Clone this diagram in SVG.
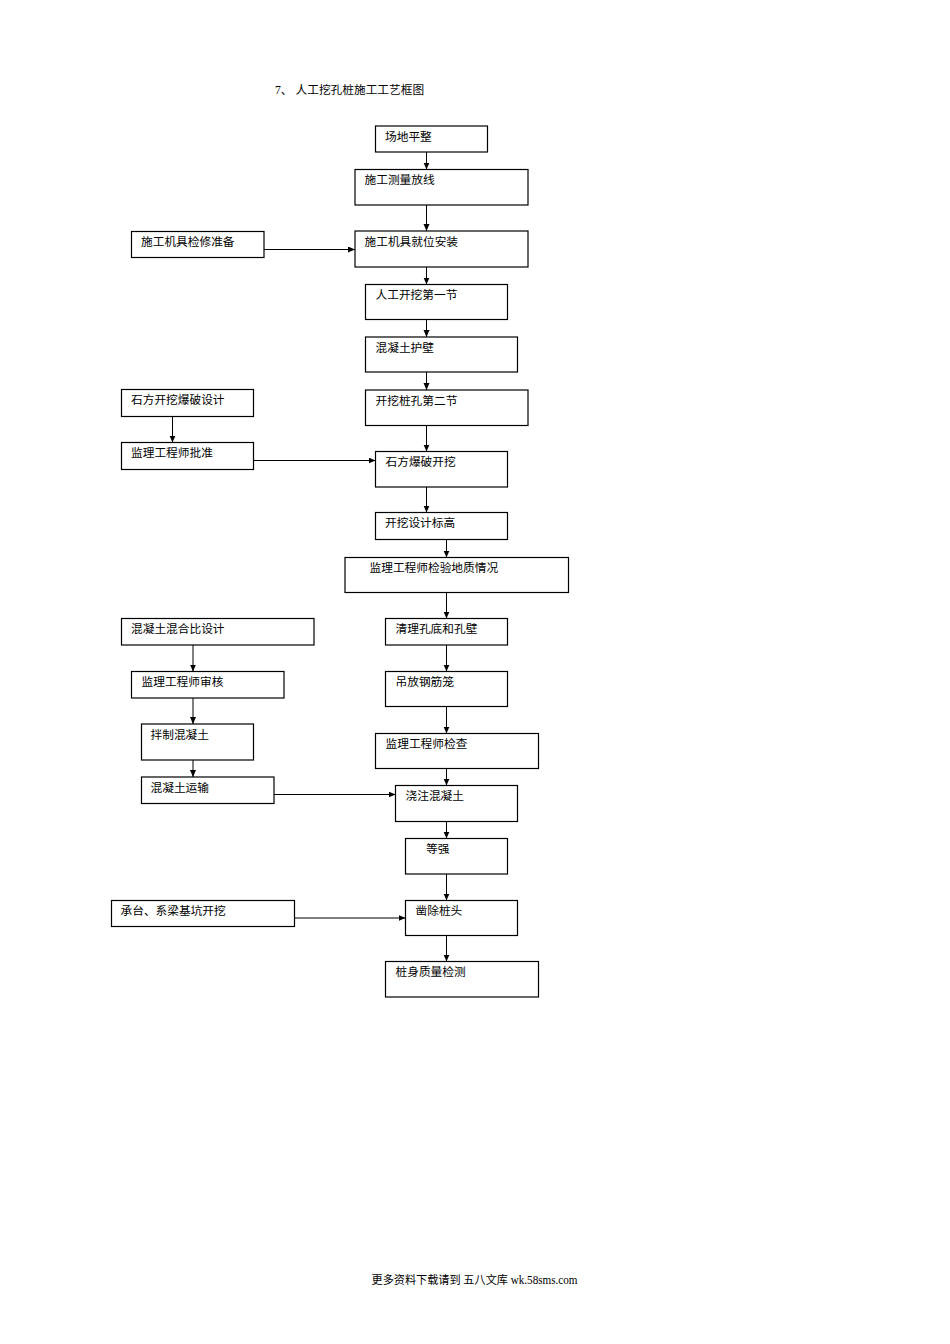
<svg xmlns="http://www.w3.org/2000/svg" width="950" height="1344" viewBox="0 0 950 1344">
<style>
.b{fill:#fff;stroke:#000;stroke-width:1.2}
.t{font-family:"Liberation Serif","Noto Sans CJK SC",serif;font-size:11.7px;fill:#000}
.c line{stroke:#000;stroke-width:1}
</style>
<defs>
<marker id="ah" markerUnits="userSpaceOnUse" markerWidth="8" markerHeight="7" refX="7" refY="3" orient="auto">
<path d="M0,0 L7,3 L0,6 z" fill="#000"/>
</marker>
</defs>
<rect width="950" height="1344" fill="#fff"/>
<g id="title">
<text class="t" x="275" y="94">7、</text>
<text class="t" x="295.5" y="94">人工挖孔桩施工工艺框图</text>
</g>
<g class="c" id="connectors">
<line x1="426.5" y1="152" x2="426.5" y2="169.5" marker-end="url(#ah)"/>
<line x1="426.5" y1="205" x2="426.5" y2="231" marker-end="url(#ah)"/>
<line x1="426.5" y1="267" x2="426.5" y2="284.5" marker-end="url(#ah)"/>
<line x1="426.5" y1="319.5" x2="426.5" y2="337" marker-end="url(#ah)"/>
<line x1="426.5" y1="372" x2="426.5" y2="390" marker-end="url(#ah)"/>
<line x1="426.5" y1="425.5" x2="426.5" y2="451.5" marker-end="url(#ah)"/>
<line x1="426.5" y1="487" x2="426.5" y2="512.5" marker-end="url(#ah)"/>
<line x1="446.5" y1="539.5" x2="446.5" y2="557.5" marker-end="url(#ah)"/>
<line x1="446.5" y1="592.5" x2="446.5" y2="618.5" marker-end="url(#ah)"/>
<line x1="446.5" y1="645" x2="446.5" y2="671.5" marker-end="url(#ah)"/>
<line x1="446.5" y1="706.5" x2="446.5" y2="733.5" marker-end="url(#ah)"/>
<line x1="446.5" y1="768.5" x2="446.5" y2="785.5" marker-end="url(#ah)"/>
<line x1="446.5" y1="821.5" x2="446.5" y2="838.5" marker-end="url(#ah)"/>
<line x1="446.5" y1="874" x2="446.5" y2="900.5" marker-end="url(#ah)"/>
<line x1="446.5" y1="935.5" x2="446.5" y2="961.5" marker-end="url(#ah)"/>
<line x1="172.5" y1="416.5" x2="172.5" y2="442.5" marker-end="url(#ah)"/>
<line x1="193" y1="645" x2="193" y2="671.5" marker-end="url(#ah)"/>
<line x1="193" y1="698" x2="193" y2="724" marker-end="url(#ah)"/>
<line x1="193" y1="760" x2="193" y2="777" marker-end="url(#ah)"/>
<line x1="264" y1="249.5" x2="355" y2="249.5" marker-end="url(#ah)"/>
<line x1="253.5" y1="460.5" x2="375.5" y2="460.5" marker-end="url(#ah)"/>
<line x1="274" y1="794.5" x2="395.5" y2="794.5" marker-end="url(#ah)"/>
<line x1="294.5" y1="918" x2="405.5" y2="918" marker-end="url(#ah)"/>
</g>
<g id="n1"><rect class="b" x="375.5" y="126" width="112" height="26"/><text class="t" x="385" y="140.5">场地平整</text></g>
<g id="n2"><rect class="b" x="355" y="169.5" width="173" height="35.5"/><text class="t" x="364.5" y="184">施工测量放线</text></g>
<g id="n3"><rect class="b" x="355" y="231" width="173" height="36"/><text class="t" x="364.5" y="245.5">施工机具就位安装</text></g>
<g id="n4"><rect class="b" x="131.5" y="231.5" width="132.5" height="26"/><text class="t" x="141" y="246">施工机具检修准备</text></g>
<g id="n5"><rect class="b" x="365.5" y="284.5" width="142" height="35"/><text class="t" x="375.5" y="299">人工开挖第一节</text></g>
<g id="n6"><rect class="b" x="365.5" y="337" width="152" height="35"/><text class="t" x="375.5" y="351.5">混凝土护壁</text></g>
<g id="n7"><rect class="b" x="365.5" y="390" width="162.5" height="35.5"/><text class="t" x="375.5" y="404.5">开挖桩孔第二节</text></g>
<g id="n8"><rect class="b" x="121.5" y="389.5" width="132" height="27"/><text class="t" x="131" y="404">石方开挖爆破设计</text></g>
<g id="n9"><rect class="b" x="121.5" y="442.5" width="132" height="27"/><text class="t" x="131" y="457">监理工程师批准</text></g>
<g id="n10"><rect class="b" x="375.5" y="451.5" width="132" height="35.5"/><text class="t" x="385.5" y="466">石方爆破开挖</text></g>
<g id="n11"><rect class="b" x="375.5" y="512.5" width="132" height="27"/><text class="t" x="385" y="527">开挖设计标高</text></g>
<g id="n12"><rect class="b" x="345" y="557.5" width="223.5" height="35"/><text class="t" x="369.5" y="572">监理工程师检验地质情况</text></g>
<g id="n13"><rect class="b" x="385.5" y="618.5" width="122" height="26.5"/><text class="t" x="395.5" y="633">清理孔底和孔壁</text></g>
<g id="n14"><rect class="b" x="121.5" y="618.5" width="192.5" height="26.5"/><text class="t" x="131" y="633">混凝土混合比设计</text></g>
<g id="n15"><rect class="b" x="131.5" y="671.5" width="152.5" height="26.5"/><text class="t" x="141.5" y="686">监理工程师审核</text></g>
<g id="n16"><rect class="b" x="141.5" y="724" width="112" height="36"/><text class="t" x="150.5" y="738.5">拌制混凝土</text></g>
<g id="n17"><rect class="b" x="141.5" y="777" width="132.5" height="26.5"/><text class="t" x="150.5" y="791.5">混凝土运输</text></g>
<g id="n18"><rect class="b" x="385.5" y="671.5" width="122" height="35"/><text class="t" x="395.5" y="686">吊放钢筋笼</text></g>
<g id="n19"><rect class="b" x="375.5" y="733.5" width="163" height="35"/><text class="t" x="385.5" y="748">监理工程师检查</text></g>
<g id="n20"><rect class="b" x="395.5" y="785.5" width="122" height="36"/><text class="t" x="405.5" y="800">浇注混凝土</text></g>
<g id="n21"><rect class="b" x="405.5" y="838.5" width="102" height="35.5"/><text class="t" x="426" y="853">等强</text></g>
<g id="n22"><rect class="b" x="405.5" y="900.5" width="112" height="35"/><text class="t" x="415.5" y="915">凿除桩头</text></g>
<g id="n23"><rect class="b" x="111.5" y="900.5" width="183" height="26"/><text class="t" x="120.5" y="915">承台、系梁基坑开挖</text></g>
<g id="n24"><rect class="b" x="385.5" y="961.5" width="153" height="35.5"/><text class="t" x="395.5" y="976">桩身质量检测</text></g>
<g id="footer">
<text class="t" x="371.5" y="1284" textLength="206" lengthAdjust="spacingAndGlyphs">更多资料下载请到 五八文库 wk.58sms.com</text>
</g>
</svg>
